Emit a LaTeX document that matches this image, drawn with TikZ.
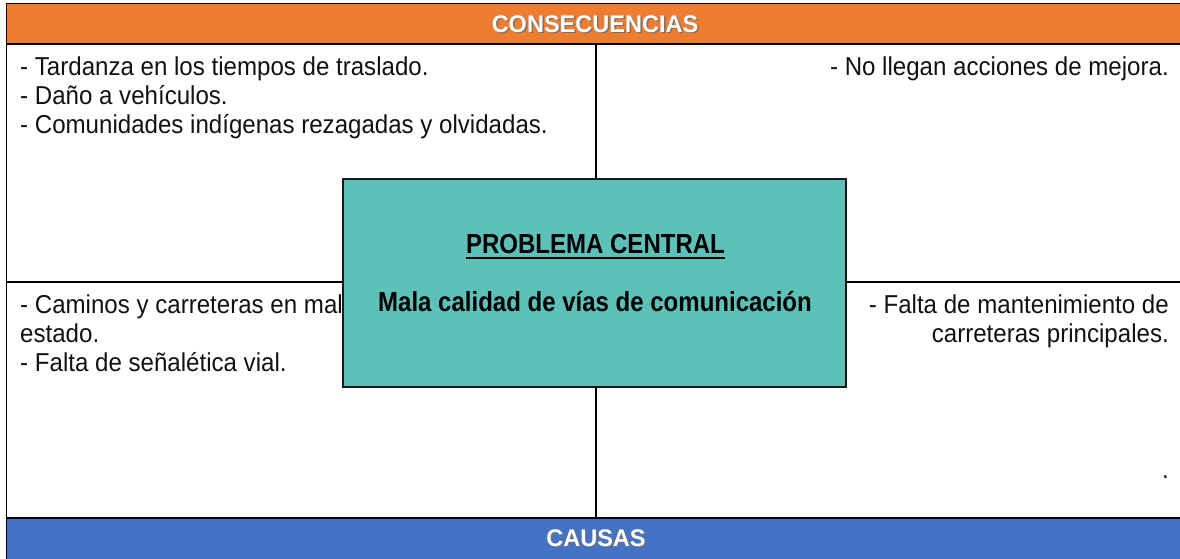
\documentclass[tikz,border=0pt]{standalone}
\usepackage{fontspec}
\setmainfont{Liberation Sans}
\newfontfamily\bodyfont[FakeStretch=0.93]{Liberation Sans}
\newfontfamily\centfont[FakeStretch=0.873]{Liberation Sans}
\newfontfamily\hdrfont[FakeStretch=0.98]{Liberation Sans}
\definecolor{hdrorange}{HTML}{ED7D31}
\definecolor{hdrblue}{HTML}{4472C4}
\definecolor{boxteal}{HTML}{5DC0B9}
\definecolor{txt}{HTML}{111111}
\tikzset{
  frameline/.style={line width=1.7pt, black},
  bodytext/.style={inner sep=0pt, text=txt, font=\bodyfont\fontsize{25.9}{29.5}\selectfont},
  hdrtext/.style={inner sep=0pt, text=white, font=\hdrfont\bfseries\fontsize{24}{28}\selectfont},
  hdrshadow/.style={inner sep=0pt, text=black!55, font=\hdrfont\bfseries\fontsize{24}{28}\selectfont},
  centbox/.style={draw=black!90, line width=1.8pt, fill=boxteal, inner sep=0pt},
  centtext/.style={inner sep=0pt, text=black, font=\centfont\bfseries\fontsize{27.5}{32}\selectfont}
}
\begin{document}
\begin{tikzpicture}[x=1pt,y=-1pt]
\useasboundingbox (0,0) rectangle (1180,558);
% bands
\fill[hdrorange] (6.5,3.5) rectangle (1182,44);
\fill[hdrblue] (6.5,518) rectangle (1182,560);
% frame lines
\draw[frameline] (6.5,3.5) -- (1182,3.5);
\draw[frameline] (6.5,44) -- (1182,44);
\draw[frameline] (6.5,282) -- (1182,282);
\draw[frameline] (6.5,518) -- (1182,518);
\draw[frameline] (6.5,2.65) -- (6.5,560);
\draw[frameline] (596,44) -- (596,518);
% headers
\node[hdrshadow, anchor=base] (consS) at (596.5,33.5) {CONSECUENCIAS};
\node[hdrtext, anchor=base] (cons) at (595,32) {CONSECUENCIAS};
\node[hdrshadow, anchor=base] (causS) at (597.5,547.5) {CAUSAS};
\node[hdrtext, anchor=base] (caus) at (596,546) {CAUSAS};
% top-left
\node[bodytext, anchor=base west] (tl1) at (20,75) {- Tardanza en los tiempos de traslado.};
\node[bodytext, anchor=base west] (tl2) at (20,104) {- Daño a vehículos.};
\node[bodytext, anchor=base west] (tl3) at (20,133) {- Comunidades indígenas rezagadas y olvidadas.};
% top-right
\node[bodytext, anchor=base east] (tr1) at (1169,75) {- No llegan acciones de mejora.};
% bottom-left
\node[bodytext, anchor=base west] (bl1) at (20,313) {- Caminos y carreteras en mal};
\node[bodytext, anchor=base west] (bl2) at (20,342) {estado.};
\node[bodytext, anchor=base west] (bl3) at (20,371) {- Falta de señalética vial.};
% bottom-right
\node[bodytext, anchor=base east] (br1) at (1169,313) {- Falta de mantenimiento de};
\node[bodytext, anchor=base east] (br2) at (1169,342) {carreteras principales.};
\node[bodytext, anchor=base east] (br3) at (1169,478) {.};
% central box
\node[centbox, minimum width=503pt, minimum height=208pt] (central) at (594.5,283) {};
\node[centtext, anchor=base] (pc) at (595.5,253) {PROBLEMA CENTRAL};
\draw[line width=2pt] ([yshift=-4.5pt]pc.base west) -- ([yshift=-4.5pt]pc.base east);
\node[centtext, anchor=base] (mala) at (595,311) {Mala calidad de vías de comunicación};
\end{tikzpicture}
\end{document}
